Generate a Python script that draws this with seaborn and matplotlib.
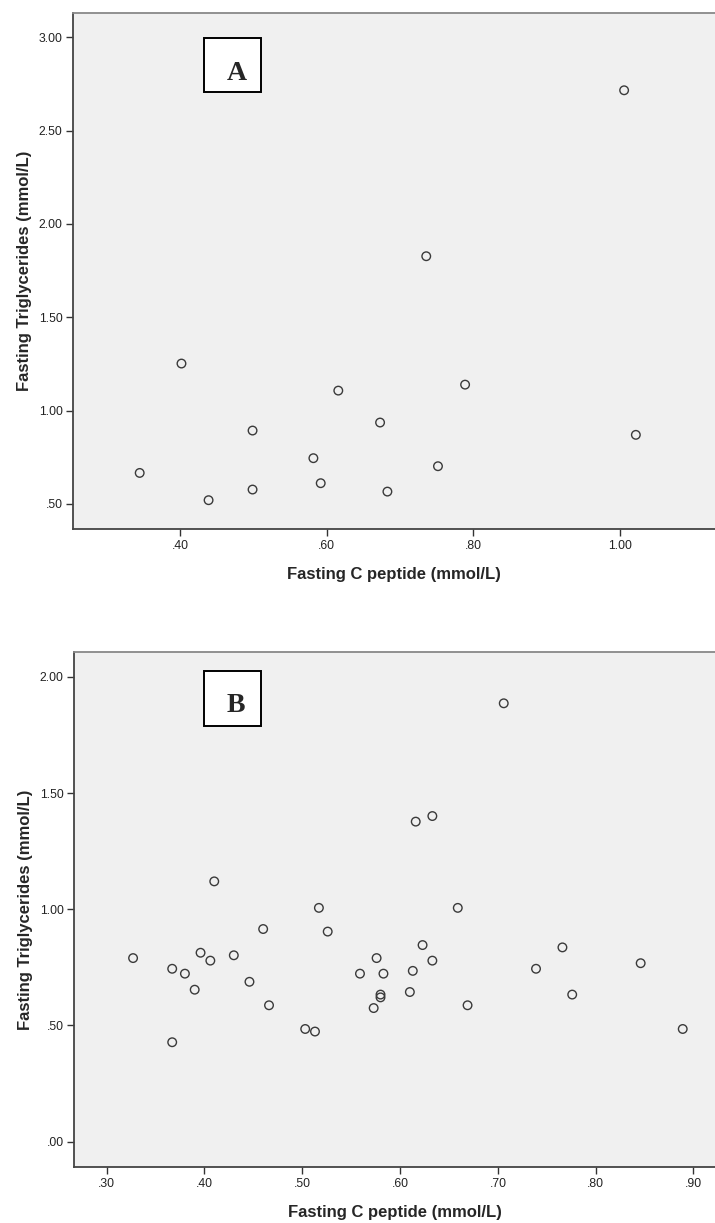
import matplotlib
matplotlib.use("Agg")
import matplotlib.pyplot as plt
from matplotlib.patches import Rectangle
import seaborn as sns
import pandas as pd

# Panel A data
a_cpeptide = [0.345, 0.402, 0.439, 0.499, 0.499, 0.582, 0.592, 0.616, 0.673,
              0.683, 0.736, 0.752, 0.789, 1.006, 1.022]
a_trig = [0.666, 1.252, 0.520, 0.893, 0.577, 0.745, 0.611, 1.107, 0.936,
          0.566, 1.827, 0.702, 1.139, 2.716, 0.870]

# Panel B data
b_cpeptide = [0.327, 0.367, 0.367, 0.380, 0.390, 0.396, 0.406, 0.410, 0.430,
              0.446, 0.460, 0.466, 0.503, 0.513, 0.517, 0.526, 0.559, 0.573,
              0.576, 0.580, 0.580, 0.583, 0.610, 0.613, 0.616, 0.623, 0.633,
              0.633, 0.659, 0.669, 0.706, 0.739, 0.766, 0.776, 0.846, 0.889]
b_trig = [0.790, 0.744, 0.428, 0.723, 0.654, 0.813, 0.779, 1.120, 0.802,
          0.688, 0.915, 0.587, 0.485, 0.474, 1.006, 0.904, 0.723, 0.575,
          0.790, 0.633, 0.621, 0.723, 0.644, 0.735, 1.377, 0.846, 1.401,
          0.779, 1.006, 0.587, 1.886, 0.744, 0.836, 0.633, 0.768, 0.485]

a_xticks = [0.40, 0.60, 0.80, 1.00]
a_xticklabels = [".40", ".60", ".80", "1.00"]
a_yticks = [0.50, 1.00, 1.50, 2.00, 2.50, 3.00]
a_yticklabels = [".50", "1.00", "1.50", "2.00", "2.50", "3.00"]

b_xticks = [0.30, 0.40, 0.50, 0.60, 0.70, 0.80, 0.90]
b_xticklabels = [".30", ".40", ".50", ".60", ".70", ".80", ".90"]
b_yticks = [0.00, 0.50, 1.00, 1.50, 2.00]
b_yticklabels = [".00", ".50", "1.00", "1.50", "2.00"]

xlabel = "Fasting C peptide (mmol/L)"
ylabel = "Fasting Triglycerides (mmol/L)"

sns.set_theme(style="ticks")
plt.rcParams["font.family"] = ["Liberation Sans", "DejaVu Sans"]

W, H = 715, 1223
fig = plt.figure(figsize=(W / 100, H / 100), dpi=100)

def px_axes(l, t, r, b):
    return fig.add_axes([l / W, 1 - b / H, (r - l) / W, (b - t) / H])

axA = px_axes(73, 13, 715, 529.3)
axB = px_axes(74, 651.7, 715, 1167.3)

panels = [
    (axA, a_cpeptide, a_trig, a_xticks, a_xticklabels, a_yticks, a_yticklabels,
     (0.254, 1.13), (0.364, 3.13), "A",
     (0.204, 0.847, 0.0888, 0.1046), (0.2555, 0.870)),
    (axB, b_cpeptide, b_trig, b_xticks, b_xticklabels, b_yticks, b_yticklabels,
     (0.2666, 0.922), (-0.110, 2.108), "B",
     (0.2028, 0.8565, 0.0889, 0.106), (0.2527, 0.8825)),
]

for ax, xs, ys, xt, xtl, yt, ytl, xlim, ylim, letter, box, lpos in panels:
    df = pd.DataFrame({"x": xs, "y": ys})
    ax.set_facecolor("#f0f0f0")
    sns.scatterplot(data=df, x="x", y="y", ax=ax, marker="o", s=38,
                    facecolor="none", edgecolor="#3a3a3a", linewidth=1.0)
    ax.set_xlim(*xlim)
    ax.set_ylim(*ylim)
    ax.set_xticks(xt)
    ax.set_xticklabels(xtl)
    ax.set_yticks(yt)
    ax.set_yticklabels(ytl)
    ax.tick_params(axis="both", direction="out", length=5, width=1.0,
                   color="#333333", labelsize=8.8, labelcolor="#222222", pad=2.5)
    for side in ["left", "bottom"]:
        ax.spines[side].set_color("#444444")
        ax.spines[side].set_linewidth(1.3)
    ax.spines["top"].set_color("#888888")
    ax.spines["top"].set_linewidth(1.3)
    ax.spines["right"].set_visible(False)
    ax.set_xlabel(xlabel, fontsize=12, fontweight="bold", labelpad=11)
    ax.set_ylabel(ylabel, fontsize=12, fontweight="bold", labelpad=5)
    ax.add_patch(Rectangle((box[0], box[1]), box[2], box[3], transform=ax.transAxes,
                           facecolor="white", edgecolor="black", linewidth=1.4,
                           zorder=5))
    ax.text(lpos[0], lpos[1], letter, transform=ax.transAxes, ha="center",
            va="baseline", fontsize=20, fontweight="bold", zorder=6,
            family=["Liberation Serif", "DejaVu Serif"])

fig.savefig("out.png", dpi=100)
